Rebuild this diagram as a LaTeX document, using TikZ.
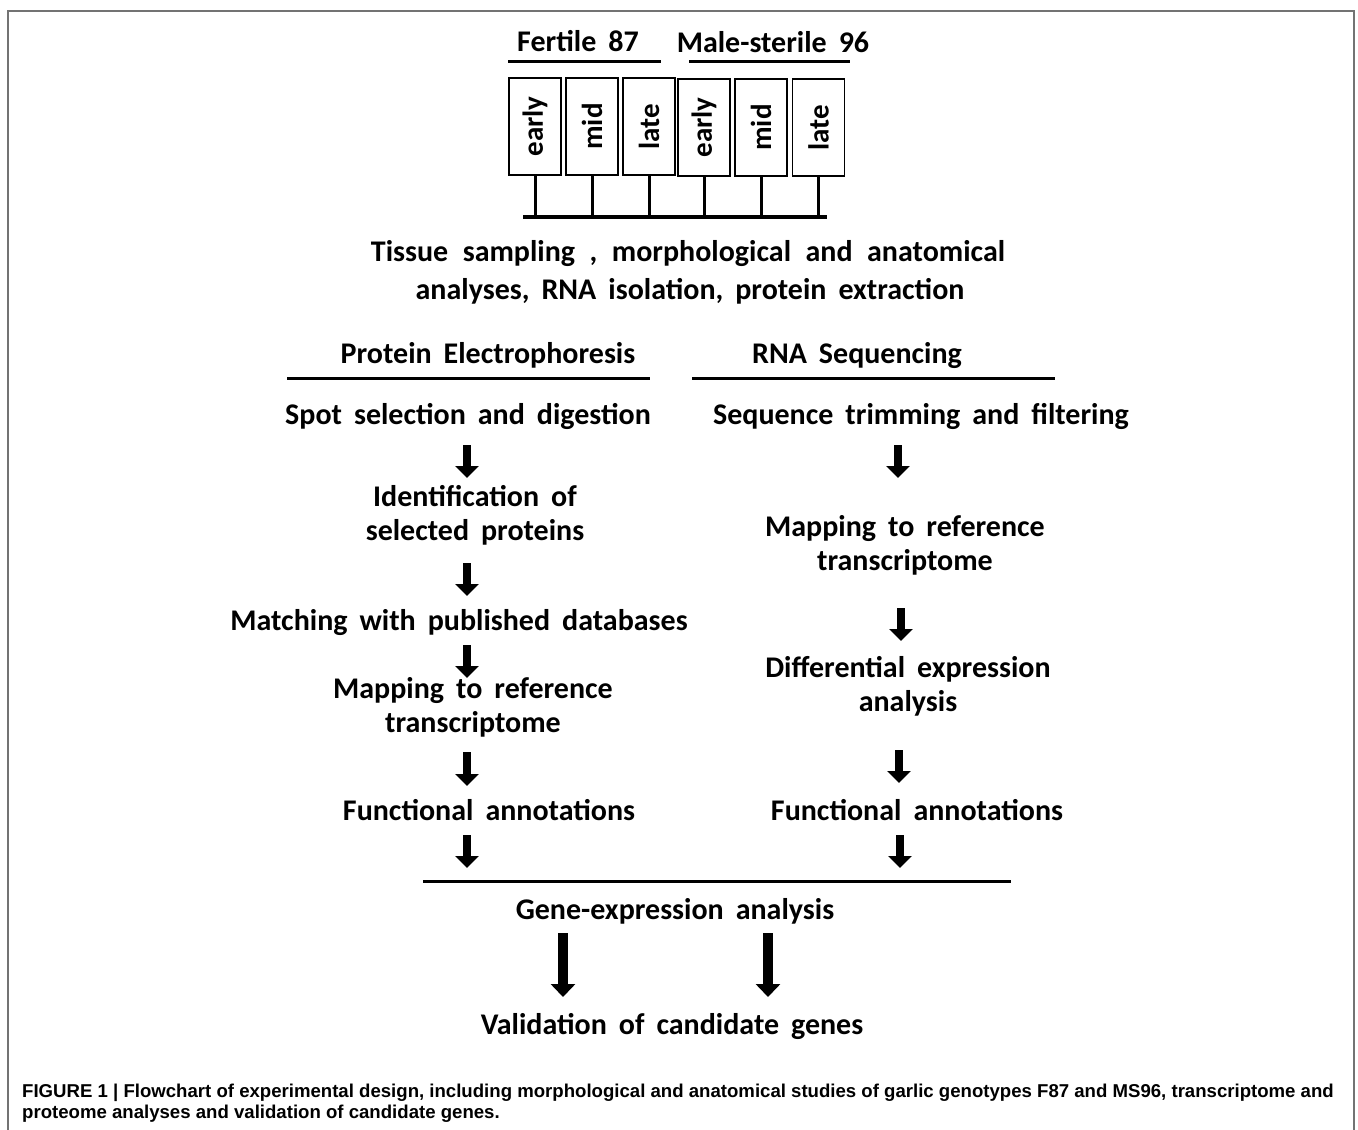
\documentclass[tikz,border=0pt]{standalone}
\usepackage{fontspec}
\setmainfont{Carlito}
\newfontfamily\capfont{Liberation Sans}
\usetikzlibrary{arrows.meta}
\newcommand\lblfont{\fontsize{30}{34}\selectfont\bfseries\spaceskip 12pt\relax}
\newcommand\widefont{\fontsize{30}{34}\selectfont\bfseries\spaceskip 14.5pt\relax}
\begin{document}
\begin{tikzpicture}[x=1pt,y=-1pt,
  lbl/.style={font=\lblfont, inner sep=0pt, anchor=base},
  widelbl/.style={font=\widefont, inner sep=0pt, anchor=base},
  stage/.style={draw=black, line width=1.3pt, minimum width=52pt, minimum height=97pt, inner sep=0pt},
  stagetxt/.style={font=\fontsize{29}{34}\selectfont\bfseries, rotate=90},
  rule/.style={line width=3pt},
  arr/.style={line width=8pt, -{Triangle[width=23pt,length=12pt]}},
  bigarr/.style={line width=10pt, -{Triangle[width=24pt,length=13pt]}},
  stem/.style={line width=3pt},
  captxt/.style={font=\capfont\fontsize{18.6}{21}\selectfont\bfseries, anchor=base west, inner sep=0pt}]
\useasboundingbox (0,0) rectangle (1358,1130);
\draw[color=black!55, line width=2pt] (8,1135) -- (8,11) -- (1354,11) -- (1354,1135);

% header
\node[lbl] (fert) at (578,51) {Fertile 87};
\node[lbl] (male) at (773,52) {Male-sterile 96};
\draw[rule] (508,61) -- (661,61);
\draw[rule] (689,61) -- (850,61);

\node[stage] (b1) at (535,126.5) {}; \node[stagetxt] at (b1) {early};
\node[stage] (b2) at (592,126.5) {}; \node[stagetxt] at (b2) {mid};
\node[stage] (b3) at (649,126.5) {}; \node[stagetxt] at (b3) {late};
\node[stage] (b4) at (704,127.5) {}; \node[stagetxt] at (b4) {early};
\node[stage] (b5) at (761,127.5) {}; \node[stagetxt] at (b5) {mid};
\node[stage] (b6) at (818.5,127.5) {}; \node[stagetxt] at (b6) {late};

\coordinate (barL) at (523,217);
\coordinate (barR) at (827,217);
\draw[line width=4pt] (barL) -- (barR);
\foreach \b in {b1,b2,b3,b4,b5,b6}{
  \draw[stem] (\b.south) -- (\b.south |- barL);
}

\node[widelbl] (tis1) at (688,261) {Tissue sampling , morphological and anatomical};
\node[lbl] (tis2) at (690,299) {analyses, RNA isolation, protein extraction};

% column headers
\node[lbl] (pe) at (488,363) {Protein Electrophoresis};
\node[lbl] (rs) at (857,363) {RNA Sequencing};
\draw[rule] (287,378) -- (650,378);
\draw[rule] (692,378) -- (1055,378);

% left column
\node[lbl] (l1) at (468,424) {Spot selection and digestion};
\node[lbl] (l2a) at (475,506) {Identification of};
\node[lbl] (l2b) at (475,540) {selected proteins};
\node[lbl] (l3) at (459,630) {Matching with published databases};
\node[lbl] (l4a) at (473,698) {Mapping to reference};
\node[lbl] (l4b) at (473,732) {transcriptome};
\node[lbl] (l5) at (489,820) {Functional annotations};

\draw[arr] (467,445) -- (467,478);
\draw[arr] (467,563) -- (467,596);
\draw[arr] (467,645) -- (467,678);
\draw[arr] (467,752) -- (467,786);
\draw[arr] (467,835) -- (467,868);

% right column
\node[lbl] (r1) at (921,424) {Sequence trimming and filtering};
\node[lbl] (r2a) at (905,536) {Mapping to reference};
\node[lbl] (r2b) at (905,570) {transcriptome};
\node[lbl] (r3a) at (908,677) {Differential expression};
\node[lbl] (r3b) at (908,711) {analysis};
\node[lbl] (r4) at (917,820) {Functional annotations};

\draw[arr] (898,445) -- (898,478);
\draw[arr] (901,608) -- (901,641);
\draw[arr] (899,750) -- (899,783);
\draw[arr] (900,835) -- (900,868);

% merge
\draw[rule] (423,881) -- (1011,881);
\node[lbl] (ge) at (675,919) {Gene-expression analysis};
\draw[bigarr] (563,933) -- (563,997);
\draw[bigarr] (768,933) -- (768,997);
\node[lbl] (val) at (672,1034) {Validation of candidate genes};

% caption
\node[captxt] (cap1) at (22,1097) {FIGURE 1 | Flowchart of experimental design, including morphological and anatomical studies of garlic genotypes F87 and MS96, transcriptome and};
\node[captxt] (cap2) at (22,1118) {proteome analyses and validation of candidate genes.};
\end{tikzpicture}
\end{document}
